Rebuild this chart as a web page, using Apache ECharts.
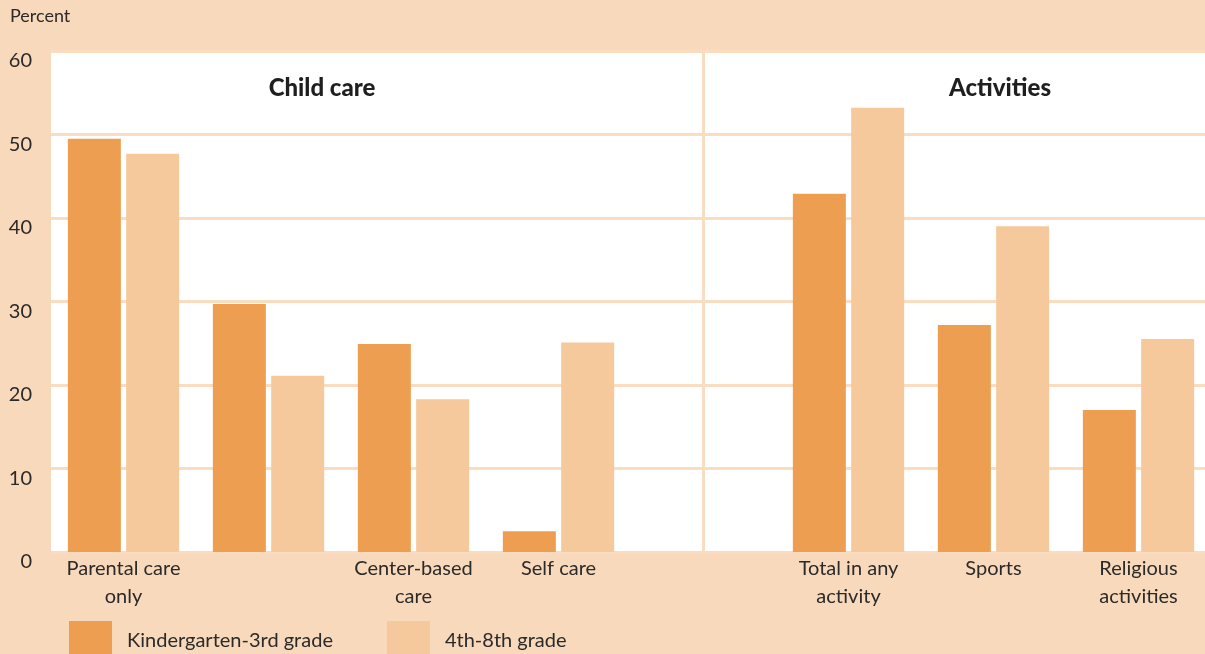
<!DOCTYPE html>
<html>
<head>
<meta charset="utf-8">
<script src="https://cdn.jsdelivr.net/npm/echarts@6/dist/echarts.min.js"></script>
<style>
html,body{margin:0;padding:0;background:#F9D9BB;}
#c{width:1205px;height:654px;}
</style>
</head>
<body>
<div id="c"></div>
<script>
const categories = ['Parental care\nonly', '', 'Center-based\ncare', 'Self care', 'gap', 'Total in any\nactivity', 'Sports', 'Religious\nactivities'];
const seriesNames = ['Kindergarten-3rd grade', '4th-8th grade'];
const k3Values = [49.5, 29.7, 24.9, 2.5, null, 42.9, 27.2, 17.0];
const g48Values = [47.7, 21.1, 18.3, 25.1, null, 53.2, 39.0, 25.5];
const yTicks = [0, 10, 20, 30, 40, 50, 60];
const sectionTitles = ['Child care', 'Activities'];
const dividerCategory = 'gap';

const FONT = 'Lato, "Open Sans", sans-serif';
const chart = echarts.init(document.getElementById('c'));
chart.setOption({
  backgroundColor: '#F9D9BB',
  animation: false,
  textStyle: {fontFamily: FONT},
  grid: {left: 51, top: 51, width: 1160, bottom: 102, outerBoundsMode: 'none', containLabel: false,
    show: true, backgroundColor: '#ffffff', borderWidth: 0},
  graphic: [
    {type: 'text', left: 10, top: 7, style: {text: 'Percent', fontSize: 18, fill: '#2a2a2a', fontFamily: FONT}},
    {type: 'text', x: 322, y: 88, style: {text: sectionTitles[0], fontSize: 24, fontWeight: 900, fill: '#1f1f1f', fontFamily: FONT, align: 'center', verticalAlign: 'middle'}},
    {type: 'text', x: 1000, y: 88, style: {text: sectionTitles[1], fontSize: 24, fontWeight: 900, fill: '#1f1f1f', fontFamily: FONT, align: 'center', verticalAlign: 'middle'}}
  ],
  legend: {
    left: 69, top: 621, padding: 0, itemWidth: 43, itemHeight: 40, itemGap: 54, icon: 'rect',
    textStyle: {fontSize: 20, color: '#2a2a2a', fontFamily: FONT, padding: [0, 0, 6, 10]},
    data: seriesNames
  },
  xAxis: {
    type: 'category', data: categories,
    axisLine: {show: false}, axisTick: {show: false},
    axisLabel: {fontSize: 20, color: '#2a2a2a', lineHeight: 28, margin: 3, interval: 0, fontFamily: FONT,
      formatter: v => v === dividerCategory ? '' : v}
  },
  yAxis: {
    type: 'value', min: 0, max: 60, interval: 10,
    axisLine: {show: false}, axisTick: {show: false},
    axisLabel: {fontSize: 20, color: '#2a2a2a', margin: 19, verticalAlign: 'top', fontFamily: FONT,
      formatter: v => yTicks.includes(v) ? String(v) : ''},
    splitLine: {lineStyle: {color: '#FADCC0', width: 3}}
  },
  series: [
    {name: seriesNames[0], type: 'bar', data: k3Values, barWidth: 53, barGap: '10%', itemStyle: {color: '#EE9E50'}},
    {name: seriesNames[1], type: 'bar', data: g48Values, barWidth: 53, barGap: '10%', itemStyle: {color: '#F5C99C'}},
    {name: 'divider', type: 'line', data: [], silent: true,
      markLine: {silent: true, symbol: 'none', label: {show: false},
        lineStyle: {color: '#FADCC0', width: 3, type: 'solid'}, data: [{xAxis: dividerCategory}]}}
  ]
});
</script>
</body>
</html>
